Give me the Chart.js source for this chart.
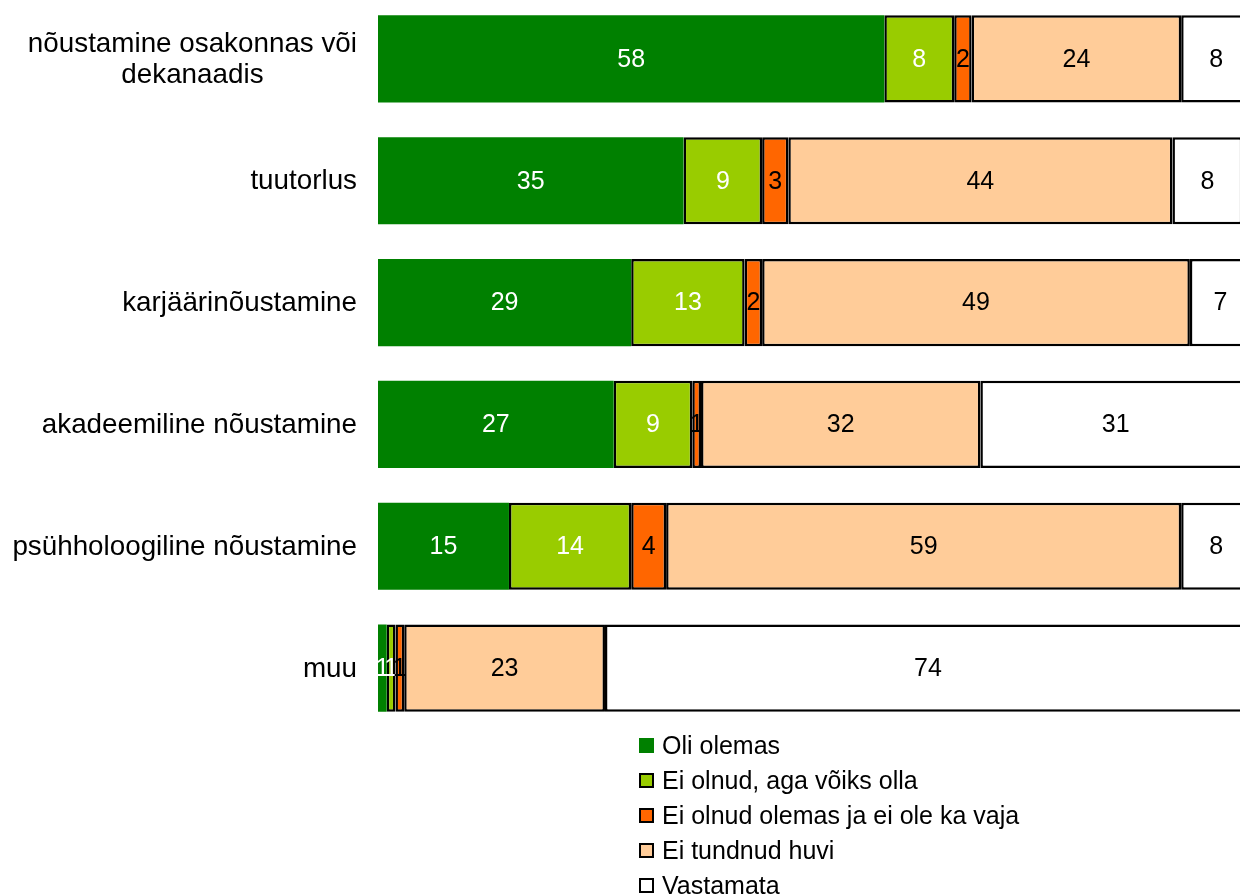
<!DOCTYPE html>
<html>
<head>
<meta charset="utf-8">
<script src="https://cdn.jsdelivr.net/npm/chart.js@4/dist/chart.umd.min.js"></script>
<style>
  html, body { margin: 0; padding: 0; background: #fff; width: 1240px; height: 895px; overflow: hidden; position: relative; }
  #wrap { position: absolute; left: 0; top: -2px; width: 1251px; height: 731px; }
  #legend { position: absolute; left: 639px; top: 728px; font-family: "Liberation Sans", Arial, sans-serif; font-size: 25px; color: #000; }
  .item { height: 35px; display: flex; align-items: center; white-space: nowrap; }
  .box { width: 15px; height: 15px; box-sizing: border-box; margin-right: 8px; }
</style>
</head>
<body>
<div id="wrap"><canvas id="c"></canvas></div>
<div id="legend"></div>
<script>
const categories = [
  ["nõustamine osakonnas või", "dekanaadis"],
  "tuutorlus",
  "karjäärinõustamine",
  "akadeemiline nõustamine",
  "psühholoogiline nõustamine",
  "muu"
];
const seriesNames = [
  "Oli olemas",
  "Ei olnud, aga võiks olla",
  "Ei olnud olemas ja ei ole ka vaja",
  "Ei tundnud huvi",
  "Vastamata"
];
const oliOlemas       = [58, 35, 29, 27, 15, 1];
const voiksOlla       = [8, 9, 13, 9, 14, 1];
const poleVaja        = [2, 3, 2, 1, 4, 1];
const eiTundnudHuvi   = [24, 44, 49, 32, 59, 23];
const vastamata       = [8, 8, 7, 31, 8, 74];

const seriesValues = [oliOlemas, voiksOlla, poleVaja, eiTundnudHuvi, vastamata];
const colors = ["#008000", "#99CC00", "#FF6600", "#FFCC99", "#FFFFFF"];
const borders = [0, 2.5, 2.5, 2.5, 2.5];
const labelColors = ["#FFFFFF", "#FFFFFF", "#000000", "#000000", "#000000"];

const FONT = '"Liberation Sans", Arial, sans-serif';

const datasets = seriesNames.map((name, i) => ({
  label: name,
  data: seriesValues[i],
  backgroundColor: colors[i],
  borderColor: "#000000",
  borderWidth: borders[i],
  borderSkipped: false,
  barPercentage: 0.715,
  categoryPercentage: 1.0
}));

const labelPlugin = {
  id: "labels",
  afterDatasetsDraw(chart) {
    const ctx = chart.ctx;
    ctx.save();
    ctx.font = "25px " + FONT;
    ctx.textAlign = "center";
    ctx.textBaseline = "middle";
    chart.data.datasets.forEach((ds, di) => {
      const meta = chart.getDatasetMeta(di);
      meta.data.forEach((el, i) => {
        const p = el.getProps(["x", "y", "base"], true);
        ctx.fillStyle = labelColors[di];
        ctx.fillText(String(ds.data[i]), (p.x + p.base) / 2, p.y + 1);
      });
    });
    const yScale = chart.scales.y;
    ctx.font = "27.8px " + FONT;
    ctx.fillStyle = "#000";
    const right = 357;
    chart.data.labels.forEach((lab, i) => {
      const lines = Array.isArray(lab) ? lab : [lab];
      const cy = yScale.getPixelForValue(i);
      const widths = lines.map(l => ctx.measureText(l).width);
      const maxW = Math.max(...widths);
      const cx = right - maxW / 2;
      const lh = 31;
      const y0 = cy - (lines.length - 1) * lh / 2;
      lines.forEach((l, k) => {
        ctx.textAlign = "center";
        ctx.fillText(l, cx, y0 + k * lh + 1);
      });
    });
    ctx.restore();
  }
};

new Chart(document.getElementById("c"), {
  type: "bar",
  data: { labels: categories, datasets: datasets },
  options: {
    indexAxis: "y",
    responsive: true,
    maintainAspectRatio: false,
    animation: false,
    layout: { padding: { left: 378, right: 0, top: 0, bottom: 0 } },
    plugins: { legend: { display: false }, tooltip: { enabled: false } },
    scales: {
      x: { stacked: true, min: 0, max: 100, display: false },
      y: { stacked: true, display: false, offset: true }
    }
  },
  plugins: [labelPlugin]
});

const legend = document.getElementById("legend");
seriesNames.forEach((name, i) => {
  const item = document.createElement("div");
  item.className = "item";
  const box = document.createElement("span");
  box.className = "box";
  box.style.background = colors[i];
  box.style.border = borders[i] ? "2.5px solid #000" : "none";
  const txt = document.createElement("span");
  txt.textContent = name;
  item.appendChild(box);
  item.appendChild(txt);
  legend.appendChild(item);
});
</script>
</body>
</html>
